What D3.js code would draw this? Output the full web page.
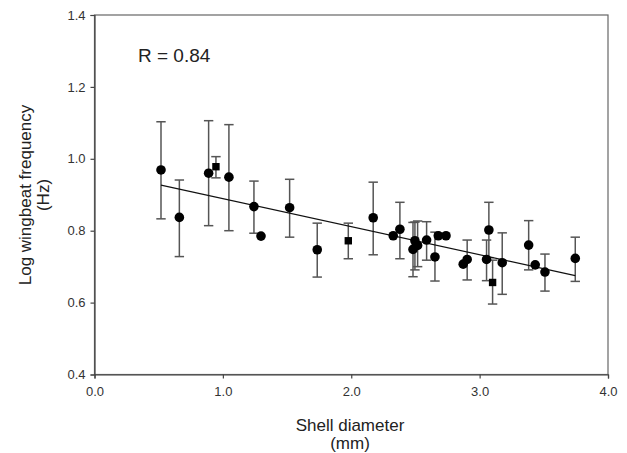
<!DOCTYPE html>
<html>
<head>
<meta charset="utf-8">
<script src="https://cdn.jsdelivr.net/npm/d3@7/dist/d3.min.js"></script>
<style>
  html, body { margin: 0; padding: 0; background: #fff; }
  svg { display: block; }
  text { font-family: "Liberation Sans", Arial, sans-serif; }
</style>
</head>
<body>
<svg id="chart" width="627" height="453"></svg>
<script>
// Shell diameter (mm)
const xs = [0.518, 0.661, 0.889, 0.946, 1.047, 1.242, 1.297, 1.520, 1.735, 1.977,
            2.171, 2.327, 2.379, 2.481, 2.496, 2.517, 2.587, 2.652, 2.678, 2.738,
            2.872, 2.903, 3.072, 3.054, 3.101, 3.176, 3.382, 3.433, 3.509, 3.745];
// Log wingbeat frequency (Hz)
const ys = [0.969, 0.837, 0.960, 0.978, 0.949, 0.867, 0.785, 0.864, 0.747, 0.772,
            0.836, 0.786, 0.804, 0.748, 0.772, 0.759, 0.774, 0.727, 0.786, 0.786,
            0.707, 0.720, 0.802, 0.720, 0.656, 0.711, 0.760, 0.705, 0.685, 0.723];
// error bar upper / lower ends (null = no bar)
const errHi = [1.103, 0.941, 1.106, 1.006, 1.095, 0.938, null, 0.943, 0.821, 0.821,
               0.935, null, 0.879, 0.823, 0.824, 0.827, 0.825, 0.796, null, null,
               null, 0.774, 0.879, 0.774, 0.718, 0.794, 0.828, null, 0.735, 0.782];
const errLo = [0.833, 0.728, 0.814, 0.947, 0.800, 0.793, null, 0.782, 0.671, 0.722,
               0.733, null, 0.722, 0.672, 0.691, 0.700, 0.718, 0.660, null, null,
               null, 0.663, 0.725, 0.661, 0.596, 0.623, 0.691, null, 0.632, 0.659];
// marker shape
const shapes = ["c","c","c","s","c","c","c","c","c","s",
                "c","c","c","c","c","c","c","c","c","c",
                "c","c","c","c","s","c","c","c","c","c"];
// fitted regression line end points
const fitX = [0.518, 3.745];
const fitY = [0.927, 0.675];

const xTicks = [0, 1, 2, 3, 4];
const yTicks = [0.4, 0.6, 0.8, 1.0, 1.2, 1.4];
const rLabel = "R = 0.84";

const svg = d3.select("#chart");
const pLeft = 94.5, pRight = 608, pTop = 15, pBottom = 374.5;
const x = d3.scaleLinear().domain([0, 4]).range([pLeft, pRight]);
const y = d3.scaleLinear().domain([0.4, 1.4]).range([pBottom, pTop]);

const axisColor = "#444";

// frame
svg.append("rect").attr("x", pLeft).attr("y", pTop)
  .attr("width", pRight - pLeft).attr("height", pBottom - pTop)
  .attr("fill", "none").attr("stroke", "#666").attr("stroke-width", 1.2);

const gx = svg.append("g").attr("transform", `translate(0,${pBottom})`)
  .call(d3.axisBottom(x).tickValues(xTicks).tickFormat(d3.format(".1f")).tickSizeOuter(0).tickSize(4).tickPadding(8));
const gy = svg.append("g").attr("transform", `translate(${pLeft},0)`)
  .call(d3.axisLeft(y).tickValues(yTicks).tickFormat(d3.format(".1f")).tickSizeOuter(0).tickSize(4).tickPadding(5));
[gx, gy].forEach(g => {
  g.select(".domain").attr("stroke", axisColor).attr("stroke-width", 1.2);
  g.selectAll(".tick line").attr("stroke", axisColor).attr("stroke-width", 1.2);
  g.selectAll(".tick text").attr("fill", "#333").style("font-size", "13px")
    .style("font-family", "'Liberation Sans', Arial, sans-serif");
});

// data rows
const data = xs.map((v, i) => ({x: v, y: ys[i], hi: errHi[i], lo: errLo[i], s: shapes[i]}));

// error bars
const eb = svg.append("g").attr("stroke", "#555").attr("stroke-width", 1.5).attr("fill", "none");
data.filter(d => d.hi !== null).forEach(d => {
  const cx = x(d.x);
  eb.append("line").attr("x1", cx).attr("x2", cx).attr("y1", y(d.hi)).attr("y2", y(d.lo));
  eb.append("line").attr("x1", cx - 4.7).attr("x2", cx + 4.7).attr("y1", y(d.hi)).attr("y2", y(d.hi));
  eb.append("line").attr("x1", cx - 4.7).attr("x2", cx + 4.7).attr("y1", y(d.lo)).attr("y2", y(d.lo));
});

// regression line
svg.append("line")
  .attr("x1", x(fitX[0])).attr("y1", y(fitY[0]))
  .attr("x2", x(fitX[1])).attr("y2", y(fitY[1]))
  .attr("stroke", "#111").attr("stroke-width", 1.2);

// markers
const mk = svg.append("g").attr("fill", "#000");
data.forEach(d => {
  if (d.s === "c") {
    mk.append("circle").attr("cx", x(d.x)).attr("cy", y(d.y)).attr("r", 4.8);
  } else {
    mk.append("rect").attr("x", x(d.x) - 3.7).attr("y", y(d.y) - 3.7)
      .attr("width", 7.4).attr("height", 7.4);
  }
});

// R label
svg.append("text").attr("x", 138).attr("y", 62).attr("fill", "#222")
  .style("font-size", "19px").text(rLabel);

// axis titles
const xt = svg.append("text").attr("text-anchor", "middle").attr("fill", "#222").style("font-size", "17px");
xt.append("tspan").attr("x", 350).attr("y", 431).text("Shell diameter");
xt.append("tspan").attr("x", 350).attr("y", 449).text("(mm)");

const yt = svg.append("text").attr("text-anchor", "middle").attr("fill", "#222").style("font-size", "17px")
  .attr("transform", "translate(0,195) rotate(-90)");
yt.append("tspan").attr("x", 0).attr("y", 31).text("Log wingbeat frequency");
yt.append("tspan").attr("x", 0).attr("y", 49).text("(Hz)");
</script>
</body>
</html>
